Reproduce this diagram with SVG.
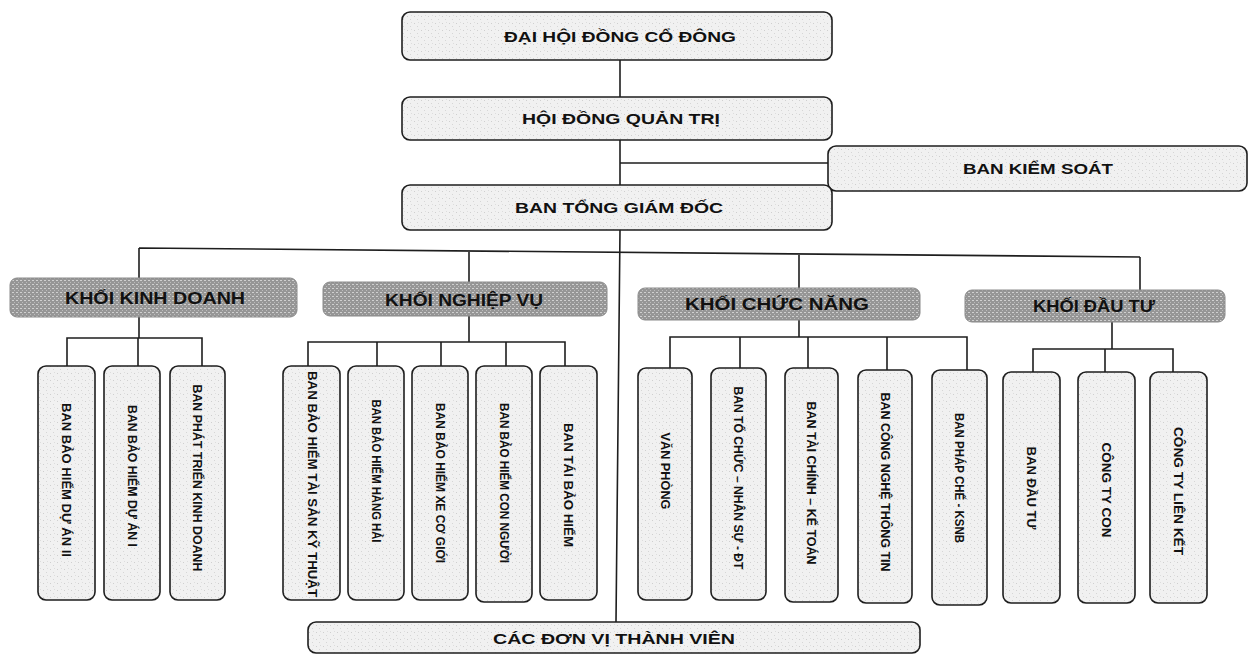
<svg xmlns="http://www.w3.org/2000/svg" width="1250" height="656" viewBox="0 0 1250 656">
<defs>
<pattern id="speck" width="7" height="7" patternUnits="userSpaceOnUse">
<rect width="7" height="7" fill="#f1f1f1"/>
<rect x="1" y="2" width="1" height="1" fill="#cfcfcf"/>
<rect x="4" y="5" width="1" height="1" fill="#d6d6d6"/>
<rect x="5" y="1" width="1" height="1" fill="#dddddd"/>
</pattern>
<pattern id="dots" width="4" height="4" patternUnits="userSpaceOnUse">
<rect width="4" height="4" fill="#969696"/>
<rect x="0" y="0" width="2" height="1" fill="#d0d0d0"/>
<rect x="2" y="2" width="1" height="1" fill="#bcbcbc"/>
</pattern>
<style>
.box{fill:url(#speck);stroke:#1e1e1e;stroke-width:1.6}
.khoi{fill:url(#dots);stroke:#8a8a8a;stroke-width:1}
.t{font-family:"Liberation Sans",Arial,sans-serif;font-weight:bold;font-size:14px;fill:#111;text-anchor:middle;dominant-baseline:central}
.k{font-size:16px}
.v{font-size:13px}
.conn path{stroke:#1e1e1e;stroke-width:1.6;fill:none}
</style>
</defs>

<g id="connectors" class="conn">
<path d="M620 60V97M620 140V185M620 163H828M620 230L616 622"/>
<path d="M139 248L1140 257M139 248V278M469 251V282M799 254V288M1140 257V290"/>
<path d="M139 317V338M67 366V338H202V366M138 338V366"/>
<path d="M469 316V342M308 366V342H565V366M377 342V366M441 342V366M506 342V366"/>
<path d="M799 320V337M670 368V337H967V370M740 337V368M808 337V368M887 337V370"/>
<path d="M1112 322V349M1033 372V349H1173V372M1105 349V372"/>
</g>

<g id="dhdcd"><rect class="box" x="402" y="12" width="430" height="48" rx="8"/><text class="t" x="620" y="37" textLength="232" lengthAdjust="spacingAndGlyphs">ĐẠI HỘI ĐỒNG CỔ ĐÔNG</text></g>
<g id="hdqt"><rect class="box" x="402" y="97" width="430" height="43" rx="8"/><text class="t" x="621" y="119" textLength="198" lengthAdjust="spacingAndGlyphs">HỘI ĐỒNG QUẢN TRỊ</text></g>
<g id="bks"><rect class="box" x="828" y="146" width="419" height="45" rx="8"/><text class="t" x="1038" y="169" textLength="150" lengthAdjust="spacingAndGlyphs">BAN KIỂM SOÁT</text></g>
<g id="btgd"><rect class="box" x="402" y="185" width="430" height="45" rx="8"/><text class="t" x="619" y="208" textLength="208" lengthAdjust="spacingAndGlyphs">BAN TỔNG GIÁM ĐỐC</text></g>

<g id="khoi-kd"><rect class="khoi" x="10" y="278" width="287" height="39" rx="7"/><text class="t k" x="155" y="298" textLength="180" lengthAdjust="spacingAndGlyphs">KHỐI KINH DOANH</text></g>
<g id="khoi-nv"><rect class="khoi" x="323" y="282" width="284" height="34" rx="7"/><text class="t k" x="464" y="300" textLength="158" lengthAdjust="spacingAndGlyphs">KHỐI NGHIỆP VỤ</text></g>
<g id="khoi-cn"><rect class="khoi" x="638" y="288" width="282" height="32" rx="7"/><text class="t k" x="777" y="304" textLength="184" lengthAdjust="spacingAndGlyphs">KHỐI CHỨC NĂNG</text></g>
<g id="khoi-dt"><rect class="khoi" x="965" y="290" width="260" height="32" rx="7"/><text class="t k" x="1094" y="306" textLength="122" lengthAdjust="spacingAndGlyphs">KHỐI ĐẦU TƯ</text></g>

<g id="kd1"><rect class="box" x="38" y="366" width="57" height="234" rx="8"/><text class="t v" transform="translate(66,480) rotate(90)" textLength="154" lengthAdjust="spacingAndGlyphs">BAN BẢO HIỂM DỰ ÁN II</text></g>
<g id="kd2"><rect class="box" x="104" y="366" width="56" height="234" rx="8"/><text class="t v" transform="translate(132,476) rotate(90)" textLength="142" lengthAdjust="spacingAndGlyphs">BAN BẢO HIỂM DỰ ÁN I</text></g>
<g id="kd3"><rect class="box" x="170" y="366" width="55" height="234" rx="8"/><text class="t v" transform="translate(197,478) rotate(90)" textLength="187" lengthAdjust="spacingAndGlyphs">BAN PHÁT TRIỂN KINH DOANH</text></g>

<g id="nv1"><rect class="box" x="283" y="366" width="57" height="234" rx="8"/><text class="t v" transform="translate(312,484) rotate(90)" textLength="226" lengthAdjust="spacingAndGlyphs">BAN BẢO HIỂM TÀI SẢN KỸ THUẬT</text></g>
<g id="nv2"><rect class="box" x="348" y="366" width="56" height="234" rx="8"/><text class="t v" transform="translate(376,471) rotate(90)" textLength="143" lengthAdjust="spacingAndGlyphs">BAN BẢO HIỂM HÀNG HẢI</text></g>
<g id="nv3"><rect class="box" x="412" y="366" width="56" height="234" rx="8"/><text class="t v" transform="translate(440,483) rotate(90)" textLength="160" lengthAdjust="spacingAndGlyphs">BAN BẢO HIỂM XE CƠ GIỚI</text></g>
<g id="nv4"><rect class="box" x="476" y="366" width="56" height="236" rx="8"/><text class="t v" transform="translate(504,483) rotate(90)" textLength="160" lengthAdjust="spacingAndGlyphs">BAN BẢO HIỂM CON NGƯỜI</text></g>
<g id="nv5"><rect class="box" x="540" y="366" width="57" height="234" rx="8"/><text class="t v" transform="translate(568,485) rotate(90)" textLength="124" lengthAdjust="spacingAndGlyphs">BAN TÁI BẢO HIỂM</text></g>

<g id="cn1"><rect class="box" x="638" y="368" width="54" height="232" rx="8"/><text class="t v" transform="translate(665,471) rotate(90)" textLength="77" lengthAdjust="spacingAndGlyphs">VĂN PHÒNG</text></g>
<g id="cn2"><rect class="box" x="711" y="368" width="55" height="232" rx="8"/><text class="t v" transform="translate(738,478) rotate(90)" textLength="183" lengthAdjust="spacingAndGlyphs">BAN TỔ CHỨC – NHÂN SỰ - ĐT</text></g>
<g id="cn3"><rect class="box" x="785" y="368" width="53" height="234" rx="8"/><text class="t v" transform="translate(811,483) rotate(90)" textLength="163" lengthAdjust="spacingAndGlyphs">BAN TÀI CHÍNH – KẾ TOÁN</text></g>
<g id="cn4"><rect class="box" x="858" y="370" width="54" height="233" rx="8"/><text class="t v" transform="translate(885,482) rotate(90)" textLength="179" lengthAdjust="spacingAndGlyphs">BAN CÔNG NGHỆ THÔNG TIN</text></g>
<g id="cn5"><rect class="box" x="932" y="370" width="55" height="235" rx="8"/><text class="t v" transform="translate(959,478) rotate(90)" textLength="130" lengthAdjust="spacingAndGlyphs">BAN PHÁP CHẾ - KSNB</text></g>

<g id="dt1"><rect class="box" x="1003" y="372" width="57" height="231" rx="8"/><text class="t v" transform="translate(1031,488) rotate(90)" textLength="83" lengthAdjust="spacingAndGlyphs">BAN ĐẦU TƯ</text></g>
<g id="dt2"><rect class="box" x="1078" y="372" width="57" height="231" rx="8"/><text class="t v" transform="translate(1106,490) rotate(90)" textLength="95" lengthAdjust="spacingAndGlyphs">CÔNG TY CON</text></g>
<g id="dt3"><rect class="box" x="1150" y="372" width="57" height="231" rx="8"/><text class="t v" transform="translate(1178,491) rotate(90)" textLength="128" lengthAdjust="spacingAndGlyphs">CÔNG TY LIÊN KẾT</text></g>

<g id="cdvtv"><rect class="box" x="308" y="622" width="612" height="31" rx="8"/><text class="t" x="614" y="639" textLength="242" lengthAdjust="spacingAndGlyphs">CÁC ĐƠN VỊ THÀNH VIÊN</text></g>
</svg>
